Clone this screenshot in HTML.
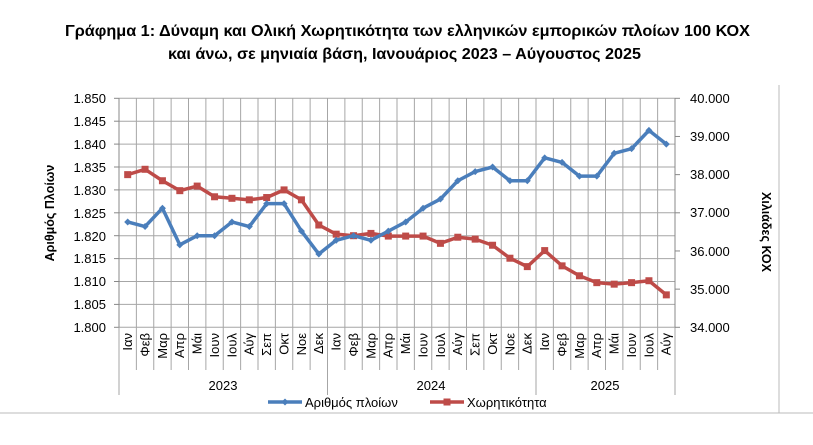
<!DOCTYPE html>
<html><head><meta charset="utf-8"><style>
body{margin:0;background:#fff;width:813px;height:440px;overflow:hidden}
svg{font-family:"Liberation Sans","DejaVu Sans",sans-serif}
</style></head><body>
<svg id="s" width="813" height="440" viewBox="0 0 813 440" xmlns="http://www.w3.org/2000/svg">
<text x="65" y="36" font-size="15.5" font-weight="bold" textLength="685" lengthAdjust="spacingAndGlyphs">Γράφημα 1: Δύναμη και Ολική Χωρητικότητα των ελληνικών εμπορικών πλοίων 100 ΚΟΧ</text>
<text x="168" y="59" font-size="15.5" font-weight="bold" textLength="473" lengthAdjust="spacingAndGlyphs">και άνω, σε μηνιαία βάση, Ιανουάριος 2023 – Αύγουστος 2025</text>
<line x1="779" y1="85" x2="779" y2="413" stroke="#bbb"/>
<line x1="0" y1="413" x2="813" y2="413" stroke="#bbb"/>
<g id="grid"></g>
<g font-size="13" text-anchor="end">
<text x="106" y="103">1.850</text><text x="106" y="126">1.845</text><text x="106" y="149">1.840</text><text x="106" y="172">1.835</text><text x="106" y="195">1.830</text><text x="106" y="218">1.825</text><text x="106" y="241">1.820</text><text x="106" y="263">1.815</text><text x="106" y="286">1.810</text><text x="106" y="309">1.805</text><text x="106" y="332">1.800</text>
</g>
<g font-size="13">
<text x="690" y="103">40.000</text><text x="690" y="141">39.000</text><text x="690" y="179">38.000</text><text x="690" y="217">37.000</text><text x="690" y="256">36.000</text><text x="690" y="294">35.000</text><text x="690" y="332">34.000</text>
</g>
<text transform="translate(54,213) rotate(-90)" font-size="12.5" font-weight="bold" text-anchor="middle">Αριθμός Πλοίων</text>
<text transform="translate(762,232) rotate(90)" font-size="12.5" font-weight="bold" text-anchor="middle">Χιλιάδες ΚΟΧ</text>
<g font-size="13" text-anchor="end" id="cats">
<text transform="translate(132,333) rotate(-90)">Ιαν</text>
<text transform="translate(149.5,333) rotate(-90)">Φεβ</text>
<text transform="translate(166.8,333) rotate(-90)">Μαρ</text>
<text transform="translate(184.2,333) rotate(-90)">Απρ</text>
<text transform="translate(201.6,333) rotate(-90)">Μάι</text>
<text transform="translate(219,333) rotate(-90)">Ιουν</text>
<text transform="translate(236.4,333) rotate(-90)">Ιουλ</text>
<text transform="translate(253.7,333) rotate(-90)">Αύγ</text>
<text transform="translate(271.1,333) rotate(-90)">Σεπ</text>
<text transform="translate(288.5,333) rotate(-90)">Οκτ</text>
<text transform="translate(305.9,333) rotate(-90)">Νοε</text>
<text transform="translate(323.2,333) rotate(-90)">Δεκ</text>
<text transform="translate(340.6,333) rotate(-90)">Ιαν</text>
<text transform="translate(358,333) rotate(-90)">Φεβ</text>
<text transform="translate(375.4,333) rotate(-90)">Μαρ</text>
<text transform="translate(392.7,333) rotate(-90)">Απρ</text>
<text transform="translate(410.1,333) rotate(-90)">Μάι</text>
<text transform="translate(427.5,333) rotate(-90)">Ιουν</text>
<text transform="translate(444.9,333) rotate(-90)">Ιουλ</text>
<text transform="translate(462.2,333) rotate(-90)">Αύγ</text>
<text transform="translate(479.6,333) rotate(-90)">Σεπ</text>
<text transform="translate(497,333) rotate(-90)">Οκτ</text>
<text transform="translate(514.4,333) rotate(-90)">Νοε</text>
<text transform="translate(531.7,333) rotate(-90)">Δεκ</text>
<text transform="translate(549.1,333) rotate(-90)">Ιαν</text>
<text transform="translate(566.5,333) rotate(-90)">Φεβ</text>
<text transform="translate(583.9,333) rotate(-90)">Μαρ</text>
<text transform="translate(601.2,333) rotate(-90)">Απρ</text>
<text transform="translate(618.6,333) rotate(-90)">Μάι</text>
<text transform="translate(636,333) rotate(-90)">Ιουν</text>
<text transform="translate(653.4,333) rotate(-90)">Ιουλ</text>
<text transform="translate(670.7,333) rotate(-90)">Αύγ</text>
</g>
<g font-size="13" text-anchor="middle">
<text x="223" y="390">2023</text><text x="431" y="390">2024</text><text x="605" y="390">2025</text>
</g>
<g id="series"></g>
<line x1="268" y1="402" x2="302" y2="402" stroke="#4a7ebb" stroke-width="3.5"/>
<path d="M285 398.5 L288.5 402 L285 405.5 L281.5 402Z" fill="#4a7ebb"/>
<text x="305" y="407" font-size="13">Αριθμός πλοίων</text>
<line x1="430" y1="402" x2="464" y2="402" stroke="#be4b48" stroke-width="3.5"/>
<rect x="443.5" y="398.5" width="7" height="7" fill="#be4b48"/>
<text x="467" y="407" font-size="13">Χωρητικότητα</text>
</svg>
<script>
var ns="http://www.w3.org/2000/svg",L=119,R=675,T=98.3,B=327.3,W=(R-L)/32;
function el(p,t,a){var e=document.createElementNS(ns,t);for(var k in a)e.setAttribute(k,a[k]);p.appendChild(e);return e}
var g=document.getElementById('grid');
for(var i=0;i<=10;i++){var y=T+(B-T)*i/10;el(g,'line',{x1:L,y1:y,x2:R,y2:y,stroke:'#a6a6a6','stroke-width':1});el(g,'line',{x1:L-5,y1:y,x2:L,y2:y,stroke:'#888'});}
for(var i=0;i<=32;i++){var x=L+W*i;var yb=(i%12==0||i==32)?395:370;el(g,'line',{x1:x,y1:T,x2:x,y2:yb,stroke:'#a6a6a6','stroke-width':1});}
for(var i=0;i<=6;i++){var y=T+(B-T)*i/6;el(g,'line',{x1:R,y1:y,x2:R+5,y2:y,stroke:'#888'});}
el(g,'line',{x1:L,y1:T,x2:L,y2:B,stroke:'#888'});el(g,'line',{x1:R,y1:T,x2:R,y2:B,stroke:'#888'});
var ships=[1823,1822,1826,1818,1820,1820,1823,1822,1827,1827,1821,1816,1819,1820,1819,1821,1823,1826,1828,1832,1834,1835,1832,1832,1837,1836,1833,1833,1838,1839,1843,1840];
var ton=[38.0,38.14,37.84,37.58,37.70,37.42,37.38,37.34,37.40,37.6,37.34,36.68,36.44,36.4,36.46,36.39,36.39,36.39,36.2,36.36,36.31,36.15,35.81,35.59,36.01,35.61,35.35,35.17,35.13,35.17,35.22,34.85];
var s=document.getElementById('series');
function draw(d,f,c,sq){var pts=d.map(function(v,i){return [L+W*(i+.5),f(v)]});
el(s,'polyline',{points:pts.map(function(p){return p.join(',')}).join(' '),fill:'none',stroke:c,'stroke-width':3.5,'stroke-linejoin':'round'});
pts.forEach(function(p){if(sq)el(s,'rect',{x:p[0]-3.5,y:p[1]-3.5,width:7,height:7,fill:c});else el(s,'path',{d:'M'+p[0]+' '+(p[1]-3.5)+'L'+(p[0]+3.5)+' '+p[1]+'L'+p[0]+' '+(p[1]+3.5)+'L'+(p[0]-3.5)+' '+p[1]+'Z',fill:c});});}
draw(ton,function(v){return B-(v-34)/6*(B-T)},'#be4b48',true);
draw(ships,function(v){return B-(v-1800)/50*(B-T)},'#4a7ebb',false);
</script>
</body></html>
